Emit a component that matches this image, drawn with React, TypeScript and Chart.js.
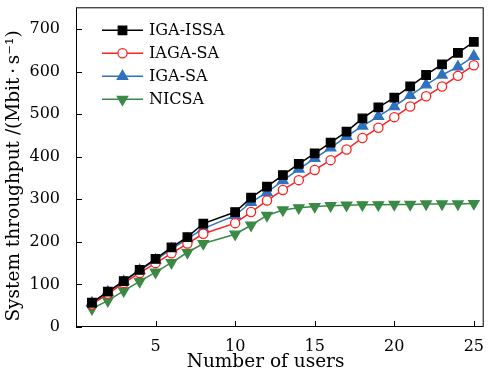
import React, { useEffect, useRef } from "react";
import { Chart, registerables } from "chart.js";
import { drawPoint } from "chart.js/helpers";

Chart.register(...registerables);

const users = [1, 2, 3, 4, 5, 6, 7, 8, 10, 11, 12, 13, 14, 15, 16, 17, 18, 19, 20, 21, 22, 23, 24, 25];
const igaIssa = [57, 83, 108, 134, 160, 187, 211, 243, 270, 304, 330, 357, 383, 408, 433, 459, 490, 516, 539, 565, 592, 617, 644, 670];
const iagaSa = [53, 78, 103, 127, 150, 173, 196, 219, 244, 270, 297, 322, 345, 369, 392, 417, 444, 468, 493, 518, 542, 565, 590, 615];
const igaSa = [56, 82, 107, 133, 157, 183, 207, 231, 262, 293, 316, 344, 371, 396, 421, 448, 472, 495, 518, 544, 569, 592, 611, 636];
const nicsa = [43, 62, 85, 107, 129, 151, 175, 196, 218, 239, 262, 275, 280, 283, 285, 286, 287, 287, 288, 288, 289, 289, 289, 290];

const seriesNames = ["IGA-ISSA", "IAGA-SA", "IGA-SA", "NICSA"];
const xTicks = [5, 10, 15, 20, 25];
const yTicks = [0, 100, 200, 300, 400, 500, 600, 700];
const xTitle = "Number of users";
const yTitle = "System throughput /(Mbit\u2009·\u2009s\u207B\u00B9)";

const FONT = "'DejaVu Serif', serif";

const framePlugin = {
  id: "frame",
  afterDraw(chart: any) {
    const { ctx, chartArea: a, scales } = chart;
    ctx.save();
    ctx.strokeStyle = "#000";
    ctx.lineWidth = 1;
    ctx.strokeRect(a.left + 0.5, a.top + 0.5, a.right - a.left - 1, a.bottom - a.top - 1);
    ctx.beginPath();
    for (const v of xTicks) {
      const x = Math.round(scales.x.getPixelForValue(v)) + 0.5;
      ctx.moveTo(x, a.bottom);
      ctx.lineTo(x, a.bottom - 6);
    }
    for (const v of yTicks) {
      const y = Math.round(scales.y.getPixelForValue(v)) + 0.5;
      ctx.moveTo(a.left, y);
      ctx.lineTo(a.left + 6, y);
    }
    ctx.stroke();

    // axis titles
    ctx.fillStyle = "#000";
    ctx.font = `18.5px ${FONT}`;
    ctx.textAlign = "center";
    ctx.textBaseline = "middle";
    ctx.fillText(xTitle, a.left + (a.right - a.left) * 0.465, 362);
    ctx.save();
    ctx.translate(14, 176);
    ctx.rotate(-Math.PI / 2);
    ctx.fillText(yTitle, 0, 0);
    ctx.restore();

    // legend
    const lx0 = a.left + 26;
    const lx1 = a.left + 67;
    const tx = a.left + 73;
    const y0 = a.top + 23;
    const dy = 23;
    chart.data.datasets.forEach((ds: any, i: number) => {
      const y = y0 + i * dy;
      ctx.strokeStyle = ds.borderColor;
      ctx.lineWidth = ds.borderWidth;
      ctx.beginPath();
      ctx.moveTo(lx0, y);
      ctx.lineTo(lx1, y);
      ctx.stroke();
      ctx.fillStyle = ds.pointBackgroundColor;
      ctx.strokeStyle = ds.pointBorderColor;
      ctx.lineWidth = ds.pointBorderWidth;
      drawPoint(ctx, { pointStyle: ds.pointStyle, rotation: ds.pointRotation || 0, radius: ds.pointRadius, borderWidth: ds.pointBorderWidth }, (lx0 + lx1) / 2, y);
      ctx.fillStyle = "#000";
      ctx.font = `16px ${FONT}`;
      ctx.textBaseline = "middle";
      ctx.textAlign = "left";
      ctx.fillText(ds.label, tx, y + 1);
    });
    ctx.restore();
  },
};

export default function App() {
  const ref = useRef<HTMLCanvasElement>(null);
  useEffect(() => {
    if (!ref.current) return;
    const mk = (label: string, data: number[], color: string, style: string, r: number, fill: string, rot = 0) => ({
      label,
      data: users.map((u, i) => ({ x: u, y: data[i] })),
      borderColor: color,
      borderWidth: 1.5,
      pointStyle: style,
      pointRadius: r,
      pointHoverRadius: r,
      pointRotation: rot,
      pointBackgroundColor: fill,
      pointBorderColor: color,
      pointBorderWidth: 1.3,
      tension: 0,
    });
    const chart = new Chart(ref.current, {
      type: "line",
      data: {
        datasets: [
          mk(seriesNames[0], igaIssa, "#000000", "rect", 6, "#000000"),
          mk(seriesNames[1], iagaSa, "#ff2020", "circle", 4.6, "#ffffff"),
          mk(seriesNames[2], igaSa, "#2f72bf", "triangle", 6, "#2f72bf"),
          mk(seriesNames[3], nicsa, "#3a8a46", "triangle", 6, "#3a8a46", 180),
        ],
      },
      options: {
        animation: false,
        responsive: false,
        events: [],
        layout: { padding: { left: 3, right: 3, top: 4, bottom: 4 } },
        plugins: { legend: { display: false }, tooltip: { enabled: false } },
        scales: {
          x: {
            type: "linear",
            min: 0,
            max: 25.62,
            grid: { display: false },
            border: { display: false },
            afterBuildTicks: (s: any) => { s.ticks = xTicks.map((v) => ({ value: v })); },
            afterFit: (s: any) => { s.height = 47; s.paddingLeft = 0; s.paddingRight = 0; },
            ticks: { color: "#000", font: { family: FONT, size: 16 }, padding: 2, maxRotation: 0 },
            title: { display: false },
          },
          y: {
            min: 0,
            max: 751,
            grid: { display: false },
            border: { display: false },
            afterBuildTicks: (s: any) => { s.ticks = yTicks.map((v) => ({ value: v })); },
            afterFit: (s: any) => { s.width = 73; s.paddingTop = 0; s.paddingBottom = 0; },
            ticks: { color: "#000", font: { family: FONT, size: 16 }, padding: 8 },
            title: { display: false },
          },
        },
      },
      plugins: [framePlugin],
    } as any);
    return () => chart.destroy();
  }, []);
  return (
    <div style={{ position: "absolute", left: 0, top: 0, width: 491, height: 378, background: "#fff" }}>
      <canvas ref={ref} width={491} height={378} />
    </div>
  );
}
